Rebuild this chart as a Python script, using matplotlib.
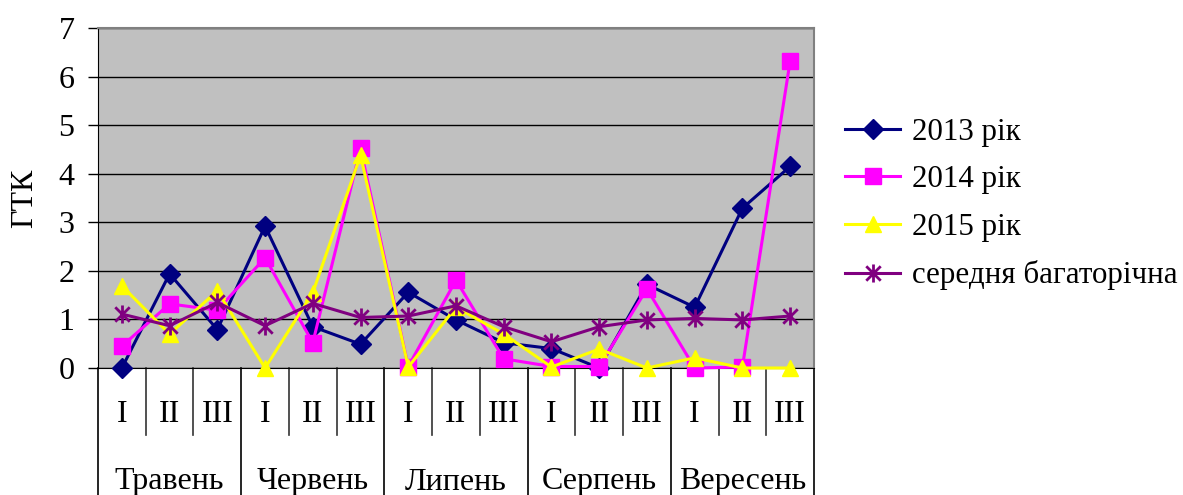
import matplotlib
matplotlib.use("Agg")
import matplotlib.pyplot as plt
from matplotlib.path import Path
import matplotlib.transforms as mtransforms

plt.rcParams['font.family'] = ['Liberation Serif', 'DejaVu Serif']

decades = ["I", "II", "III"] * 5
months = ["Травень", "Червень", "Липень", "Серпень", "Вересень"]

y2013 = [0.00, 1.94, 0.79, 2.92, 0.85, 0.49, 1.56, 0.99, 0.52, 0.40, 0.00, 1.72, 1.25, 3.29, 4.15]
y2014 = [0.45, 1.32, 1.19, 2.27, 0.52, 4.52, 0.03, 1.81, 0.19, 0.03, 0.03, 1.63, 0.00, 0.02, 6.32]
y2015 = [1.69, 0.70, 1.59, 0.00, 1.55, 4.38, 0.02, 1.25, 0.70, 0.02, 0.39, 0.00, 0.21, 0.00, 0.00]
ymean = [1.11, 0.87, 1.35, 0.87, 1.33, 1.04, 1.07, 1.28, 0.85, 0.54, 0.85, 0.99, 1.02, 0.99, 1.07]

labels = ["2013 рік", "2014 рік", "2015 рік", "середня багаторічна"]

FS = 23
LFS = 22.3
W, H = 1183, 495
fig = plt.figure(figsize=(W / 100, H / 100), dpi=100)
L, R, T, B = 98, 814, 28, 368
ax = fig.add_axes([L / W, (H - B) / H, (R - L) / W, (B - T) / H])
ax.set_facecolor('#C0C0C0')

x = list(range(len(decades)))

star = Path([(-1, -1), (1, 1), (-1, 1), (1, -1), (0, -1.25), (0, 1.25)],
            [Path.MOVETO, Path.LINETO, Path.MOVETO, Path.LINETO, Path.MOVETO, Path.LINETO])

lw = 2.2
h1, = ax.plot(x, y2013, color='#000080', lw=lw, marker='D', ms=10, mfc='#000080', mec='#000080', zorder=3, clip_on=False)
h2, = ax.plot(x, y2014, color='#FF00FF', lw=lw, marker='s', ms=11, mfc='#FF00FF', mec='#FF00FF', zorder=4, clip_on=False)
h3, = ax.plot(x, y2015, color='#FFFF00', lw=lw, marker='^', ms=12, mfc='#FFFF00', mec='#FFFF00', zorder=5, clip_on=False)
h4, = ax.plot(x, ymean, color='#800080', lw=lw, marker=star, ms=13, mfc='none', mec='#800080', mew=2.0, zorder=6, clip_on=False)

ax.set_xlim(-0.5, len(decades) - 0.5)
ax.set_ylim(0, 7)
ax.set_yticks(range(0, 8))
ax.tick_params(axis='y', direction='out', length=7, width=1, pad=10, labelsize=FS)
ax.set_xticks([])
ax.yaxis.grid(True, color='black', lw=1)
ax.set_axisbelow(True)
for s in ['top', 'right']:
    ax.spines[s].set_color('#808080')
    ax.spines[s].set_linewidth(1.5)
ax.spines['left'].set_color('black')
ax.spines['bottom'].set_color('black')

ax.set_ylabel("ГТК", fontsize=FS)
ax.yaxis.set_label_coords(-0.082, 0.5)

# multi-level category axis
tr = mtransforms.blended_transform_factory(ax.transData, ax.transAxes)
ah = B - T
lvl1_bottom = -(435 - B) / ah
lvl2_bottom = -(H + 5 - B) / ah
for i in range(len(decades) + 1):
    xpos = i - 0.5
    if i % 3 == 0:
        y0 = lvl2_bottom
        col = 'black'
    else:
        y0 = lvl1_bottom
        col = '#333333'
    ax.plot([xpos, xpos], [0, y0], color=col, lw=1.2, transform=tr, clip_on=False)
for i, d in enumerate(decades):
    ax.text(i, -(414 - B) / ah, d, transform=tr, ha='center', va='center', fontsize=FS)
for j, m in enumerate(months):
    ax.text(3 * j + 1, -(482 - B) / ah, m, transform=tr, ha='center', va='center', fontsize=FS)

px = LFS * 100 / 72
fig.legend([h1, h2, h3, h4], labels, loc='center left',
           bbox_to_anchor=((845 - 0.9 * px) / W, (H - 204) / H), frameon=False, fontsize=LFS,
           handlelength=55 / px, handletextpad=0.38, labelspacing=0.6)

fig.savefig("out.png", dpi=100)
